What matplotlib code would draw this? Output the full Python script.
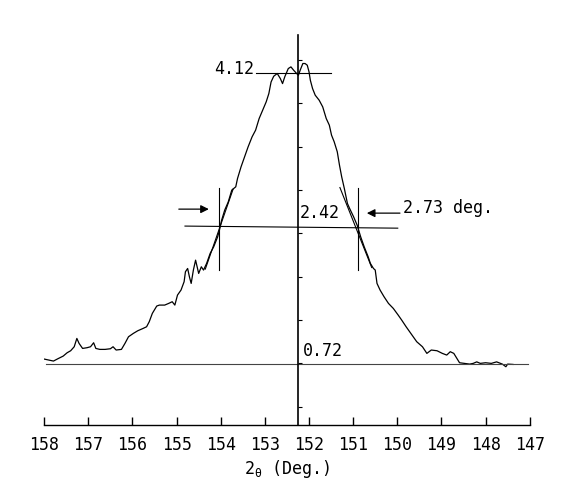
import numpy as np
import matplotlib.pyplot as plt

# =============================
# Data
# =============================
two_theta = [158.00, 157.89, 157.79, 157.69, 157.57, 157.48, 157.40, 157.32, 157.26, 157.21,
             157.13, 157.03, 156.95, 156.88, 156.83, 156.74, 156.62, 156.50, 156.44, 156.37,
             156.25, 156.17, 156.09, 155.98, 155.88, 155.76, 155.68, 155.62, 155.55, 155.45,
             155.39, 155.27, 155.18, 155.10, 155.04, 154.98, 154.90, 154.83, 154.80, 154.75,
             154.71, 154.67, 154.62, 154.57, 154.50, 154.44, 154.39, 154.32, 154.24, 154.16,
             154.07, 154.03, 153.98, 153.91, 153.83, 153.75, 153.66, 153.62, 153.54, 153.46,
             153.38, 153.29, 153.21, 153.13, 153.05, 152.97, 152.91, 152.86, 152.80, 152.72,
             152.65, 152.60, 152.55, 152.47, 152.41, 152.35, 152.28, 152.24, 152.20, 152.14,
             152.09, 152.04, 152.00, 151.97, 151.92, 151.86, 151.77, 151.69, 151.61, 151.54,
             151.49, 151.43, 151.36, 151.31, 151.26, 151.20, 151.13, 151.08, 150.99, 150.91,
             150.83, 150.75, 150.66, 150.61, 150.54, 150.50, 150.46, 150.39, 150.30, 150.20,
             150.09, 149.98, 149.90, 149.80, 149.72, 149.64, 149.56, 149.43, 149.33, 149.23,
             149.10, 148.98, 148.88, 148.80, 148.72, 148.65, 148.59, 148.49, 148.36, 148.28,
             148.20, 148.12, 148.00, 147.87, 147.75, 147.62, 147.54, 147.50, 147.38]
intensity = [0.825, 0.812, 0.800, 0.829, 0.862, 0.904, 0.929, 0.979, 1.083, 1.021,
             0.958, 0.967, 0.979, 1.029, 0.958, 0.946, 0.946, 0.954, 0.979, 0.938,
             0.946, 1.021, 1.104, 1.146, 1.179, 1.208, 1.229, 1.292, 1.396, 1.488,
             1.500, 1.500, 1.521, 1.542, 1.500, 1.625, 1.688, 1.792, 1.917, 1.958,
             1.854, 1.771, 1.938, 2.062, 1.896, 1.979, 1.938, 2.021, 2.146, 2.229,
             2.354, 2.438, 2.562, 2.688, 2.790, 2.938, 2.979, 3.083, 3.229, 3.354,
             3.479, 3.604, 3.688, 3.833, 3.938, 4.042, 4.146, 4.290, 4.362, 4.396,
             4.333, 4.270, 4.354, 4.458, 4.479, 4.438, 4.396, 4.375, 4.438, 4.521,
             4.521, 4.500, 4.417, 4.312, 4.208, 4.125, 4.062, 3.979, 3.833, 3.750,
             3.625, 3.542, 3.417, 3.250, 3.104, 2.958, 2.771, 2.708, 2.604, 2.500,
             2.354, 2.229, 2.104, 2.021, 1.958, 1.938, 1.771, 1.688, 1.604, 1.521,
             1.458, 1.375, 1.312, 1.229, 1.167, 1.104, 1.042, 0.979, 0.896, 0.938,
             0.929, 0.896, 0.875, 0.917, 0.896, 0.833, 0.779, 0.771, 0.762, 0.771,
             0.790, 0.771, 0.779, 0.771, 0.790, 0.762, 0.729, 0.762, 0.758]

x_ticks = [158, 157, 156, 155, 154, 153, 152, 151, 150, 149, 148, 147]
y_ticks = [0.229, 0.771, 1.312, 1.854, 2.396, 2.938, 3.479, 4.021, 4.562]

center_pos = 152.24            # vertical reference axis
base_level = 0.762             # background level (0.72)
half_level = [2.488, 2.462]    # half maximum line, left / right end
top_level = 4.40               # peak level (4.12)
left_edge, right_edge = 154.04, 150.89
labels = ['4.12', '2.42', '0.72', '2.73 deg.']

# =============================
# Figure
# =============================
FONT = 'DejaVu Sans Mono'
plt.rcParams['font.family'] = FONT
plt.rcParams['mathtext.fontset'] = 'custom'
plt.rcParams['mathtext.rm'] = FONT

fig = plt.figure(figsize=(5.68, 5.03), dpi=100)
ax = fig.add_axes([0.0778, 0.155, 0.8548, 0.775])

ax.plot(two_theta, intensity, color='black', lw=0.9)

lw = 0.8
ax.plot([157.95, 147.03], [base_level, base_level], color='#444444', lw=lw)
ax.plot([154.81, 149.99], half_level, color='black', lw=lw)
ax.plot([153.19, 151.51], [top_level, top_level], color='black', lw=lw)
ax.plot([left_edge, left_edge], [1.94, 2.96], color='black', lw=lw)
ax.plot([right_edge, right_edge], [1.94, 2.96], color='black', lw=lw)
# tangents at the half maximum
ax.plot([154.35, 153.72], [1.95, 2.95], color='black', lw=lw)
ax.plot([151.30, 150.58], [2.97, 1.97], color='black', lw=lw)

# arrows
arrow = dict(arrowstyle='-|>', color='black', lw=0.9, mutation_scale=12, shrinkA=0, shrinkB=0)
ax.annotate('', xy=(154.27, 2.70), xytext=(154.95, 2.70), arrowprops=arrow)
ax.annotate('', xy=(150.69, 2.65), xytext=(149.94, 2.65), arrowprops=arrow)

fs = 12
ax.text(153.25, 4.45, labels[0], ha='right', va='center', fontsize=fs)
ax.text(152.20, 2.65, labels[1], ha='left', va='center', fontsize=fs)
ax.text(152.14, 0.92, labels[2], ha='left', va='center', fontsize=fs)
ax.text(149.87, 2.71, labels[3], ha='left', va='center', fontsize=fs)

ax.set_xlim(158, 147)
ax.set_ylim(0, 4.875)
ax.set_xticks(x_ticks)
ax.set_yticks(y_ticks)
ax.set_yticklabels([])
ax.spines['left'].set_position(('data', center_pos))
ax.spines['right'].set_visible(False)
ax.spines['top'].set_visible(False)
ax.spines['bottom'].set_linewidth(1.0)
ax.spines['left'].set_linewidth(1.2)
ax.tick_params(axis='x', direction='in', length=6, width=1.0, pad=8, labelsize=fs)
ax.tick_params(axis='y', direction='in', length=3, width=0.8)
ax.set_xlabel(r'2$\mathregular{_{θ}}$ (Deg.)', fontsize=fs, labelpad=3)

fig.savefig('out.png', dpi=100)
